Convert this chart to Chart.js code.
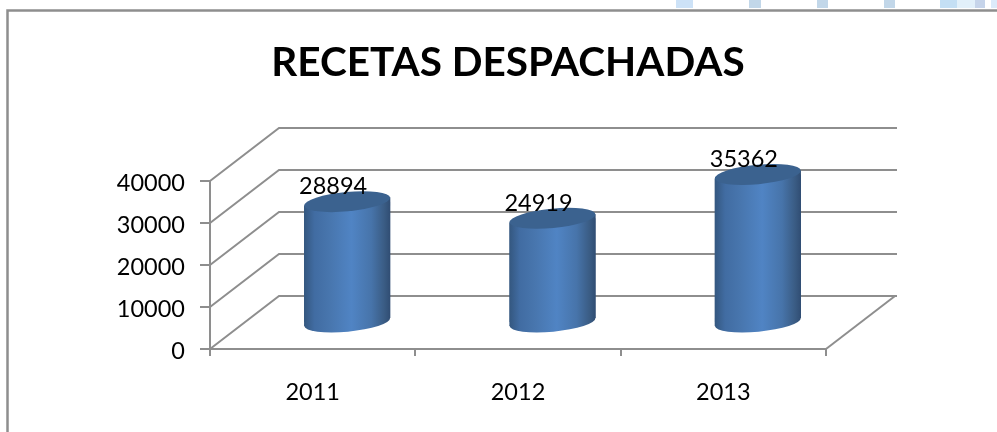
<!DOCTYPE html>
<html><head><meta charset="utf-8">
<style>html,body{margin:0;padding:0;background:#fff}#w{position:relative;width:997px;height:432px}</style>
<script src="https://cdn.jsdelivr.net/npm/chart.js@4"></script>
</head><body><div id="w"><canvas id="c" width="997" height="432"></canvas></div>
<script>
const categories = ['2011', '2012', '2013'];
const despachadas = [28894, 24919, 35362];
const yTicks = [0, 10000, 20000, 30000, 40000];
const chartTitle = 'RECETAS DESPACHADAS';

const LINE = '#8e8e8e', INK = '#000';
const FONT = 'Lato, Carlito, Calibri, sans-serif';
const WALL = {dx: 69, dy: -53};      // depth of the 3D box
const BAR = {dx: 34.5, dy: -26, tilt: -0.095, ry: 0.225}; // bar offset within that depth

function barGradient(ctx, cx, hw) {
  const g = ctx.createLinearGradient(cx - hw, 0, cx + hw, 0);
  g.addColorStop(0, '#34577f');
  g.addColorStop(0.12, '#416ca2');
  g.addColorStop(0.3, '#4876ae');
  g.addColorStop(0.55, '#5084c4');
  g.addColorStop(0.78, '#4774aa');
  g.addColorStop(0.93, '#3a5c84');
  g.addColorStop(1, '#304d73');
  return g;
}
function ellipse(ctx, cx, cy, hw) {
  ctx.beginPath();
  ctx.ellipse(cx, cy, hw, hw * BAR.ry, BAR.tilt, 0, Math.PI * 2);
}
function sideOutline(ctx, el) {
  const hw = el.width / 2, lift = Math.sin(BAR.tilt) * hw;
  ctx.moveTo(el.x - hw, el.y - lift);
  ctx.lineTo(el.x + hw, el.y + lift);
  ctx.lineTo(el.x + hw, el.base + lift);
  ctx.lineTo(el.x - hw, el.base - lift);
  ctx.closePath();
}
const scene = {
  id: 'scene',
  afterLayout(chart) {
    // the label gutter reaches past the padding that centres the title
    chart.scales.y.left = 0;
  },
  beforeDraw(chart) {
    const {ctx, scales: {x, y}} = chart;
    ctx.save();
    // window strip + frame
    [[676, 17, '#cde2f7'], [749, 12, '#c2d7e9'], [817, 11, '#c2d7e9'], [884, 11, '#c2d7e9'],
     [940, 17, '#c4dff4'], [957, 18, '#e2f0fa'], [975, 10, '#c6d4ea'], [991, 6, '#dcebfa']]
      .forEach(b => { ctx.fillStyle = b[2]; ctx.fillRect(b[0], 0, b[1], 8); });
    ctx.strokeStyle = LINE; ctx.lineWidth = 2.5;
    ctx.beginPath(); ctx.moveTo(7.5, 432); ctx.lineTo(7.5, 10.5); ctx.lineTo(997, 10.5); ctx.stroke();
    // back wall, side wall and floor
    ctx.lineWidth = 2;
    const L = x.left, R = x.right;
    yTicks.forEach(v => {
      const py = y.getPixelForValue(v);
      ctx.beginPath();
      ctx.moveTo(L, py);
      ctx.lineTo(L + WALL.dx, py + WALL.dy);
      ctx.lineTo(R + WALL.dx + 2, py + WALL.dy);
      ctx.stroke();
    });
    const b = y.getPixelForValue(0);
    ctx.beginPath(); ctx.moveTo(R, b); ctx.lineTo(R + WALL.dx, b + WALL.dy); ctx.stroke();
    ctx.restore();
  },
  beforeDatasetDraw(chart) {
    const {ctx} = chart;
    const bars = chart.getDatasetMeta(0).data;
    ctx.save();
    ctx.translate(BAR.dx, BAR.dy);
    bars.forEach(el => {
      const hw = el.width / 2;
      ctx.fillStyle = barGradient(ctx, el.x, hw);
      ellipse(ctx, el.x, el.base, hw);
      ctx.fill();
      ctx.beginPath();
      sideOutline(ctx, el);
      ctx.fill();
    });
    // keep the square bar ends from poking out of the tilted ends
    ctx.beginPath();
    bars.forEach(el => sideOutline(ctx, el));
    ctx.clip();
  },
  afterDatasetDraw(chart) {
    const {ctx} = chart;
    ctx.restore();
    ctx.save();
    ctx.translate(BAR.dx, BAR.dy);
    chart.getDatasetMeta(0).data.forEach(el => {
      ellipse(ctx, el.x, el.y, el.width / 2);
      ctx.fillStyle = '#3b628f';
      ctx.fill();
    });
    ctx.restore();
  },
  afterDraw(chart) {
    const {ctx} = chart;
    ctx.save();
    ctx.font = '23.5px ' + FONT;
    ctx.fillStyle = INK;
    ctx.textAlign = 'center';
    ctx.textBaseline = 'middle';
    chart.getDatasetMeta(0).data.forEach((el, i) => {
      ctx.fillText(String(despachadas[i]), el.x + 20.5, el.y - 41);
    });
    ctx.restore();
  }
};

new Chart(document.getElementById('c'), {
  type: 'bar',
  data: {labels: categories, datasets: [{
    label: chartTitle,
    data: despachadas,
    barPercentage: 0.42,
    categoryPercentage: 1,
    borderWidth: 0,
    backgroundColor(c) {
      const s = c.chart.scales.x;
      if (!s || !c.chart.chartArea || c.dataIndex === undefined) return '#4f81bd';
      const step = s.width / categories.length;
      return barGradient(c.chart.ctx, s.getPixelForValue(c.dataIndex), step * 0.21);
    }
  }]},
  plugins: [scene],
  options: {
    responsive: false,
    animation: false,
    layout: {padding: {left: 190, right: 171, top: 0, bottom: 0}},
    plugins: {
      legend: {display: false},
      tooltip: {enabled: false},
      title: {display: true, text: chartTitle, color: INK,
        font: {family: FONT, size: 40.5, weight: 'bold', lineHeight: 1.2},
        padding: {top: 39, bottom: 93.4}}
    },
    scales: {
      x: {
        afterFit(s) { s.height = 83; },
        border: {color: LINE, width: 2},
        grid: {color: LINE, lineWidth: 2, drawOnChartArea: false, tickLength: 7},
        ticks: {color: INK, padding: 22, font: {family: FONT, size: 23.5}}
      },
      y: {
        min: 0, max: 40000,
        afterFit(s) { s.width = 20; },
        afterBuildTicks(s) { s.ticks = yTicks.map(v => ({value: v})); },
        border: {color: LINE, width: 2},
        grid: {color: LINE, lineWidth: 2, drawOnChartArea: false, tickLength: 10},
        ticks: {color: INK, padding: 15, labelOffset: 2, font: {family: FONT, size: 23.5}, callback: v => String(v)}
      }
    }
  }
});
</script></body></html>
